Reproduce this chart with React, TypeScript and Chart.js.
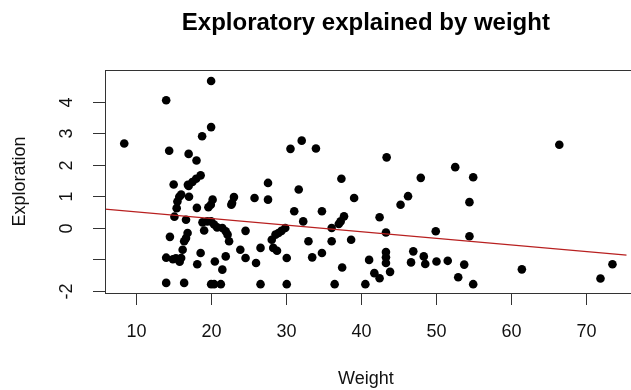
import React, { useEffect, useRef } from "react";
import { Chart, registerables } from "chart.js";

Chart.register(...registerables);

const titleText = "Exploratory explained by weight";
const xAxisTitle = "Weight";
const yAxisTitle = "Exploration";

const weight = [
  8.4, 14.0, 14.4, 14.0, 14.0, 14.5, 14.9, 15.0, 15.1, 15.3, 15.4, 15.5, 15.75, 15.8, 16.0, 16.0,
  16.2, 16.4, 16.4, 16.65, 16.65, 16.86, 16.9, 17.0, 17.05, 17.0, 17.5, 18.0, 18.6, 18.05, 18.1,
  18.15, 18.6, 18.8, 18.85, 19.07, 19.5, 19.64, 19.96, 20.0, 20.0, 20.0, 20.0, 20.2, 20.4, 20.4,
  20.5, 20.8, 21.3, 21.5, 21.5, 21.95, 21.95, 22.2, 22.4, 22.7, 22.8, 23.05, 23.9, 24.6, 24.6,
  25.8, 26.0, 26.6, 26.6, 27.6, 27.6, 28.1, 28.3, 28.6, 28.8, 29.0, 29.4, 29.9, 30.1, 30.1, 30.6,
  31.1, 31.7, 32.1, 32.3, 33.0, 33.5, 34.0, 34.8, 34.8, 36.1, 36.1, 36.5, 37.05, 37.3, 37.4, 37.5,
  37.75, 38.7, 39.1, 40.6, 41.1, 41.8, 42.5, 42.5, 43.35, 43.35, 43.35, 43.35, 43.44, 43.9, 45.3,
  46.3, 46.7, 47.0, 48.0, 48.4, 48.6, 50.0, 50.1, 51.6, 52.6, 53.0, 53.8, 54.5, 54.5, 55.0, 55.0,
  61.5, 66.5, 72.0, 73.6,
];

const exploration = [
  2.67, 4.04, 2.44, -0.95, -1.75, -0.29, -1.0, 1.37, 0.35, -0.97, 0.62, 0.83, 0.98, -1.08, 1.05, -0.96,
  -0.7, -1.75, -0.43, -0.33, 0.25, -0.17, 1.36, 2.34, 0.98, 1.32, 1.45, 1.55, 1.66, 2.13, 0.63,
  -1.16, -0.8, 2.9, 0.17, -0.09, 0.2, 0.65, 0.73, 0.2, 3.19, 4.65, -1.79, 0.89, 0.1, -1.79,
  -1.07, 0.01, -1.79, -0.01, -1.33, -0.11, -0.91, -0.22, -0.43, 0.73, 0.78, 0.97, -0.7, -0.1, -0.96,
  0.94, -1.12, -0.64, -1.79, 1.42, 0.89, -0.38, -0.64, -0.22, -0.73, -0.17, -0.1, -0.01, -0.96, -1.79, 2.5,
  0.52, 1.21, 2.76, 0.2, -0.43, -0.94, 2.51, 0.52, -0.8, -0.01, -0.43, -1.79, 0.12, 0.2, 1.55, -1.26,
  0.36, -0.38, 0.94, -1.79, -1.02, -1.44, 0.33, -1.6, -0.15, -0.77, -0.94, -1.12, 2.23, -1.4, 0.73,
  1.0, -1.1, -0.75, 1.58, -0.91, -1.15, -0.11, -1.07, -1.05, 1.92, -1.57, -1.17, 0.81, -0.27, 1.6, -1.79,
  -1.32, 2.63, -1.61, -1.16,
];

const xTicks = [10, 20, 30, 40, 50, 60, 70];
const xTickLabels = ["10", "20", "30", "40", "50", "60", "70"];
const yTicks = [-2, -1, 0, 1, 2, 3, 4];
const yTickLabels = ["-2", "", "0", "1", "2", "3", "4"];

const xRange = [5.83, 75.5];
const yRange = [-2.07, 5.0];

const fitIntercept = 0.709;
const fitSlope = -0.0209;

const FONT = "'Liberation Sans', Arial, sans-serif";

const rStylePlugin = {
  id: "rStyle",
  afterDraw(chart: any) {
    const ctx = chart.ctx as CanvasRenderingContext2D;
    const area = chart.chartArea;
    const xs = chart.scales.x;
    const ys = chart.scales.y;
    ctx.save();
    ctx.strokeStyle = "#333333";
    ctx.lineWidth = 1;
    // box
    ctx.strokeRect(Math.round(area.left) + 0.5, Math.round(area.top) + 0.5, area.right - area.left + 10, Math.round(area.bottom - area.top));
    // x ticks
    ctx.fillStyle = "#111111";
    ctx.font = `18px ${FONT}`;
    ctx.textAlign = "center";
    ctx.textBaseline = "alphabetic";
    xTicks.forEach((v, i) => {
      const px = Math.round(xs.getPixelForValue(v)) + 0.5;
      ctx.beginPath();
      ctx.moveTo(px, area.bottom);
      ctx.lineTo(px, area.bottom + 12);
      ctx.stroke();
      ctx.fillText(xTickLabels[i], px, 337);
    });
    // y ticks
    yTicks.forEach((v, i) => {
      const py = Math.round(ys.getPixelForValue(v)) + 0.5;
      ctx.beginPath();
      ctx.moveTo(area.left - 12, py);
      ctx.lineTo(area.left, py);
      ctx.stroke();
      if (yTickLabels[i]) {
        ctx.save();
        ctx.translate(72, py);
        ctx.rotate(-Math.PI / 2);
        ctx.fillText(yTickLabels[i], 0, 0);
        ctx.restore();
      }
    });
    // axis titles
    ctx.fillText(xAxisTitle, (area.left + area.right) / 2, 384);
    ctx.save();
    ctx.translate(25, (area.top + area.bottom) / 2);
    ctx.rotate(-Math.PI / 2);
    ctx.fillText(yAxisTitle, 0, 0);
    ctx.restore();
    // title
    ctx.fillStyle = "#000000";
    ctx.font = `bold 24px ${FONT}`;
    ctx.fillText(titleText, (area.left + area.right) / 2, 30);
    ctx.restore();
  },
};

export default function App() {
  const ref = useRef<HTMLCanvasElement | null>(null);

  useEffect(() => {
    document.body.style.margin = "0";
    const canvas = ref.current;
    if (!canvas) return;
    const points = weight.map((w, i) => ({ x: w, y: exploration[i] }));
    const fit = xRange.map((x) => ({ x, y: fitIntercept + fitSlope * x }));
    const chart = new Chart(canvas, {
      type: "scatter",
      data: {
        datasets: [
          {
            data: fit,
            showLine: true,
            borderColor: "#b82020",
            borderWidth: 1.2,
            pointRadius: 0,
            order: 0,
          } as any,
          {
            data: points,
            pointRadius: 4.3,
            pointBackgroundColor: "#000000",
            pointBorderWidth: 0,
            borderColor: "#000000",
            order: 1,
          } as any,
        ],
      },
      options: {
        responsive: false,
        animation: false,
        devicePixelRatio: 1,
        layout: { padding: { left: 105, top: 70, right: 0, bottom: 97 } },
        scales: {
          x: { type: "linear", min: xRange[0], max: xRange[1], display: false },
          y: { type: "linear", min: yRange[0], max: yRange[1], display: false },
        },
        plugins: {
          legend: { display: false },
          tooltip: { enabled: false },
          title: { display: false },
        },
      },
      plugins: [rStylePlugin],
    });
    return () => chart.destroy();
  }, []);

  return (
    <div style={{ width: 631, height: 390, background: "#ffffff" }}>
      <canvas ref={ref} width={631} height={390} style={{ display: "block" }} />
    </div>
  );
}
